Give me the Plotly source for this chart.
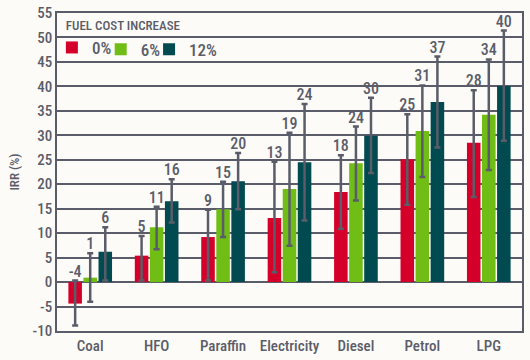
import plotly.graph_objects as go

categories = ["Coal", "HFO", "Paraffin", "Electricity", "Diesel", "Petrol", "LPG"]
series_names = ["0%", "6%", "12%"]

irr_0 = [-4.4, 5.4, 9.2, 13.1, 18.4, 25.1, 28.5]
irr_6 = [0.9, 11.2, 14.9, 19.0, 24.3, 30.9, 34.2]
irr_12 = [6.2, 16.5, 20.6, 24.5, 29.9, 36.8, 40.1]

high_0 = [0.3, 9.4, 14.8, 24.6, 25.9, 34.3, 39.2]
low_0 = [-8.9, 0.3, 0.3, 2.0, 10.9, 15.8, 17.4]
high_6 = [5.9, 15.4, 20.5, 30.5, 31.8, 40.2, 45.5]
low_6 = [-4.0, 6.7, 9.2, 7.4, 16.7, 21.5, 22.9]
high_12 = [11.2, 21.0, 26.4, 36.4, 37.7, 46.1, 51.4]
low_12 = [0.3, 12.2, 14.9, 12.6, 22.3, 27.5, 28.9]

labels_0 = ["-4", "5", "9", "13", "18", "25", "28"]
labels_6 = ["1", "11", "15", "19", "24", "31", "34"]
labels_12 = ["6", "16", "20", "24", "30", "37", "40"]

y_ticks = [-10, -5, 0, 5, 10, 15, 20, 25, 30, 35, 40, 45, 50, 55]
y_tick_labels = ["-10", "-5", "0", "5", "10", "15", "20", "25", "30", "35", "40", "45", "50", "55"]

colors = ["#d5002a", "#6fbd15", "#004a50"]
grey = "#5a5d69"
bg = "#fdfbf7"
font_family = "Roboto Condensed, Liberation Sans Narrow, sans-serif"

values = [irr_0, irr_6, irr_12]
highs = [high_0, high_6, high_12]
lows = [low_0, low_6, low_12]
labels = [labels_0, labels_6, labels_12]
legend_refs = ["legend", "legend2", "legend3"]

fig = go.Figure()
for i in range(3):
    v, h, l = values[i], highs[i], lows[i]
    fig.add_trace(go.Bar(
        x=categories, y=v, name=series_names[i],
        marker=dict(color=colors[i], line=dict(width=0)),
        offsetgroup=str(i), legend=legend_refs[i],
        error_y=dict(type="data", symmetric=False,
                     array=[hh - vv for hh, vv in zip(h, v)],
                     arrayminus=[vv - ll for vv, ll in zip(v, l)],
                     color=grey, thickness=2.5, width=3),
    ))
for i in range(3):
    fig.add_trace(go.Scatter(
        x=categories, y=highs[i], mode="text", text=labels[i],
        textposition="top center", offsetgroup=str(i),
        textfont=dict(size=16, color=grey, family=font_family, weight=500),
        showlegend=False, hoverinfo="skip", cliponaxis=False,
    ))

legend_font = dict(size=17, color=grey, family=font_family, weight=500)
fig.update_layout(
    width=530, height=360,
    margin=dict(l=57, r=8, t=13, b=29, autoexpand=False),
    paper_bgcolor=bg, plot_bgcolor=bg,
    barmode="group", bargap=0.32, bargroupgap=0.1,
    scattermode="group", scattergap=0.32,
    font=dict(family=font_family, color=grey, size=15, weight=500),
    showlegend=True,
    legend=dict(
        orientation="h", x=-0.011, y=1.0, xanchor="left", yanchor="top",
        bgcolor="rgba(0,0,0,0)",
        title=dict(text="\u00a0\u00a0\u00a0\u00a0FUEL COST INCREASE", side="top",
                   font=dict(size=13, color=grey, family=font_family, weight=500)),
        font=legend_font,
    ),
    legend2=dict(
        orientation="h", x=0.094, y=0.941, xanchor="left", yanchor="top",
        bgcolor="rgba(0,0,0,0)", font=legend_font,
    ),
    legend3=dict(
        orientation="h", x=0.198, y=0.941, xanchor="left", yanchor="top",
        bgcolor="rgba(0,0,0,0)", font=legend_font,
    ),
    xaxis=dict(
        showline=True, linecolor=grey, linewidth=1.5, mirror=True,
        showgrid=False, ticks="", automargin=False,
        tickfont=dict(size=15, color=grey),
    ),
    yaxis=dict(
        range=[-10, 55], tickvals=y_ticks, ticktext=y_tick_labels,
        showline=True, linecolor=grey, linewidth=1.5, mirror=True,
        showgrid=True, gridcolor=grey, gridwidth=1.5, automargin=False,
        zeroline=False, ticks="", tickfont=dict(size=15, color=grey),
        ticklabeloverflow="allow",
        title=dict(text="IRR (%)", font=dict(size=13, color=grey), standoff=10),
    ),
)

# remove the default 8px page margin so the figure fills the window exactly
fig.write_html("out.html", config={"displayModeBar": False},
               post_script="document.body.style.margin='0';")
